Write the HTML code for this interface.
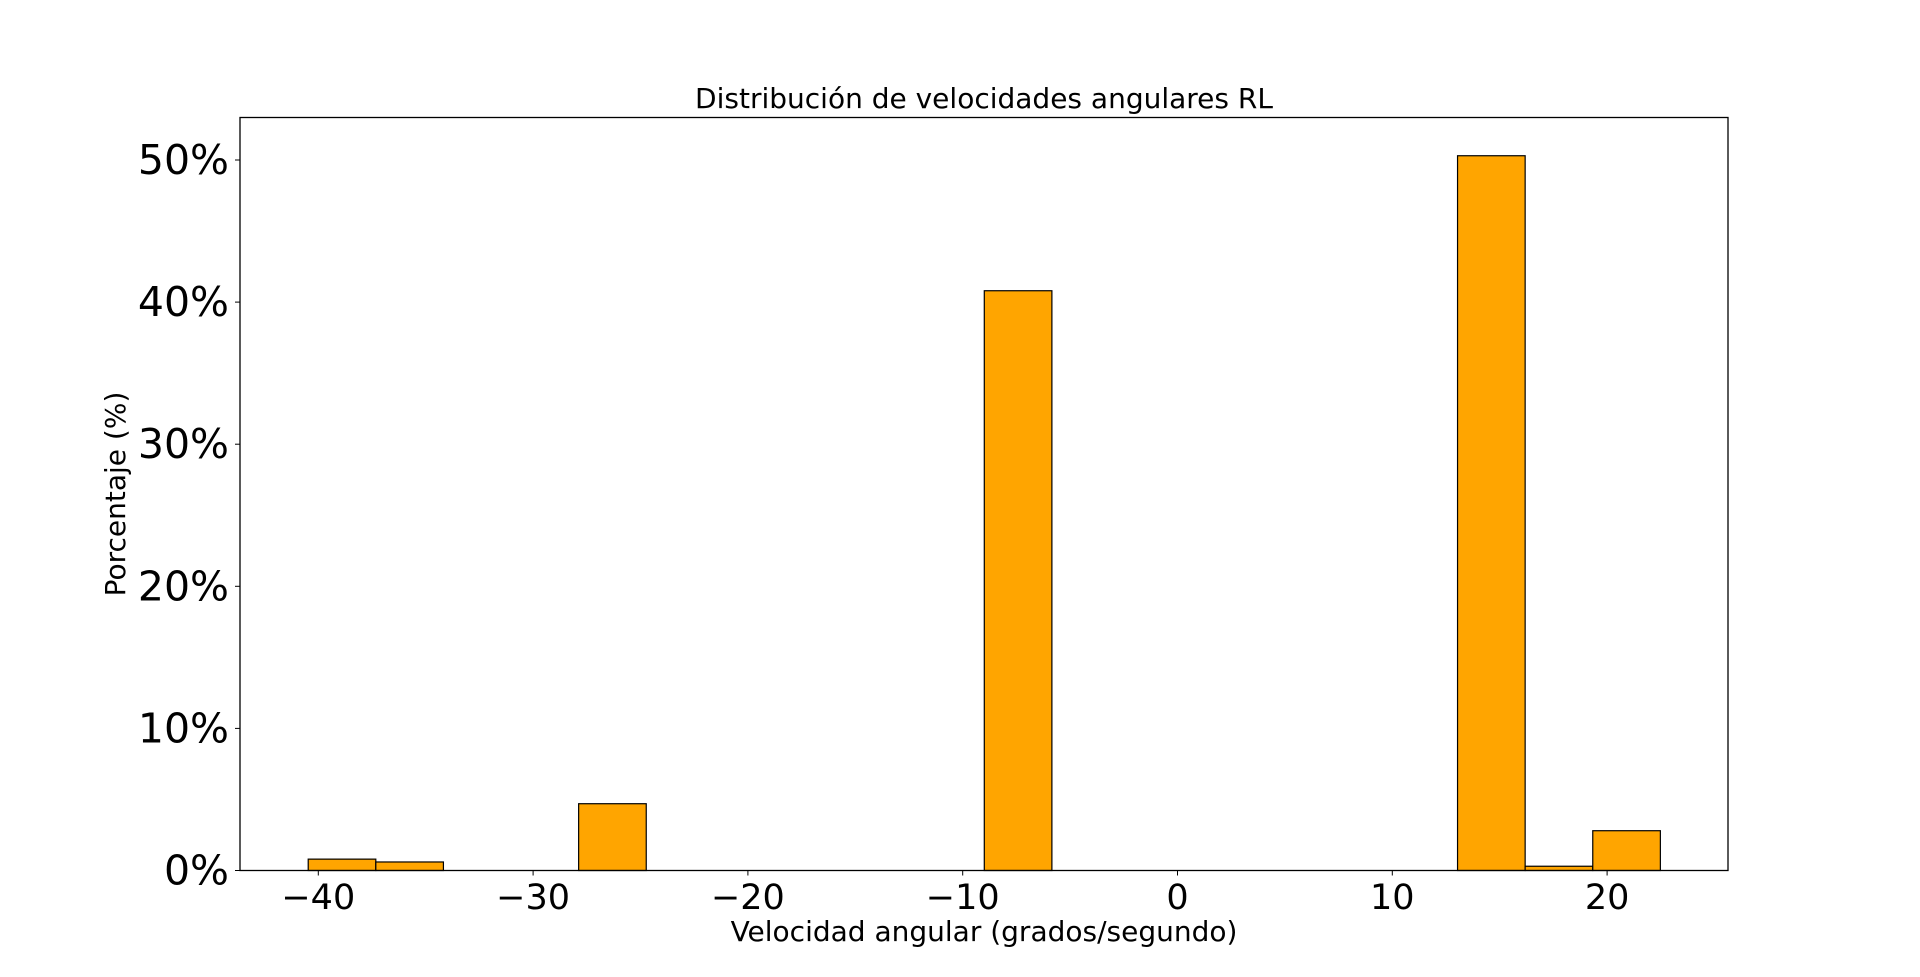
<!DOCTYPE html>
<html><head><meta charset="utf-8"><style>
body{margin:0;background:#fff;}
svg{display:block;font-family:"DejaVu Sans","Liberation Sans",sans-serif;}
</style></head><body>
<svg id="chart" width="1920" height="977" xmlns="http://www.w3.org/2000/svg">
<text x="984" y="108" font-size="28" text-anchor="middle">Distribución de velocidades angulares RL</text>
<text x="984" y="941" font-size="28" text-anchor="middle">Velocidad angular (grados/segundo)</text>
<text x="0" y="0" font-size="28" text-anchor="middle" transform="translate(125,494) rotate(-90)">Porcentaje (%)</text>
<g id="bars"></g>
<g id="axes"></g>
<rect x="240" y="117.5" width="1488" height="753" fill="none" stroke="#000" stroke-width="1.3"/>
</svg>
<script>
const binStart = -40.47;
const binWidth = 3.1475;
const binValues = [0.8,0.6,0,0,4.7,0,0,0,0,0,40.8,0,0,0,0,0,0,50.3,0.3,2.8];
const xTicks = [-40,-30,-20,-10,0,10,20];
const xTickLabels = ["\u221240","\u221230","\u221220","\u221210","0","10","20"];
const yTicks = [0,10,20,30,40,50];
const yTickLabels = ["0%","10%","20%","30%","40%","50%"];
const NS="http://www.w3.org/2000/svg";
function xs(v){return 318.3+(v+40)*21.48;}
function ys(v){return 870.5-v*14.21;}
const bars=document.getElementById('bars');
binValues.forEach((v,i)=>{
  if(v<=0) return;
  const x0=xs(binStart+i*binWidth), x1=xs(binStart+(i+1)*binWidth);
  const r=document.createElementNS(NS,'rect');
  r.setAttribute('x',x0);r.setAttribute('width',x1-x0);
  r.setAttribute('y',ys(v));r.setAttribute('height',ys(0)-ys(v));
  r.setAttribute('fill','#FFA500');r.setAttribute('stroke','#000');r.setAttribute('stroke-width','1.2');
  
  
  bars.appendChild(r);
});
const axes=document.getElementById('axes');
xTicks.forEach((t,i)=>{
  const l=document.createElementNS(NS,'line');
  l.setAttribute('x1',xs(t));l.setAttribute('x2',xs(t));l.setAttribute('y1',870.5);l.setAttribute('y2',875.5);l.setAttribute('stroke','#000');
  
  
  axes.appendChild(l);
  const tx=document.createElementNS(NS,'text');
  tx.setAttribute('x',xs(t));tx.setAttribute('y',909);tx.setAttribute('font-size','35');tx.setAttribute('text-anchor','middle');
  tx.textContent=xTickLabels[i];
  
  
  axes.appendChild(tx);
});
yTicks.forEach((t,i)=>{
  const l=document.createElementNS(NS,'line');
  l.setAttribute('x1',235);l.setAttribute('x2',240);l.setAttribute('y1',ys(t));l.setAttribute('y2',ys(t));l.setAttribute('stroke','#000');
  
  
  axes.appendChild(l);
  const tx=document.createElementNS(NS,'text');
  tx.setAttribute('x',229);tx.setAttribute('y',ys(t)+14);tx.setAttribute('font-size','41');tx.setAttribute('text-anchor','end');
  tx.textContent=yTickLabels[i];
  
  
  axes.appendChild(tx);
});
</script>
</body></html>
